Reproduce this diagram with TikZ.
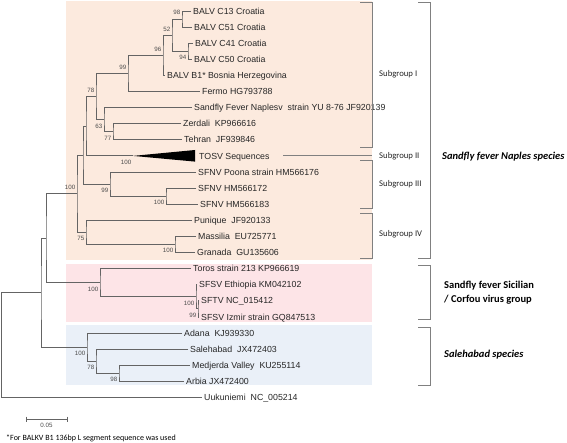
\documentclass[tikz,border=0pt]{standalone}
\usepackage{fontspec}
\newfontfamily\arialfont{Liberation Sans}
\newfontfamily\calibrifont{Carlito}
\usetikzlibrary{calc}
\definecolor{naplesbg}{RGB}{252,234,222}
\definecolor{sicilianbg}{RGB}{253,228,231}
\definecolor{salehabadbg}{RGB}{234,240,248}
\definecolor{treegray}{RGB}{100,100,100}
\definecolor{bracketgray}{RGB}{128,128,128}
\tikzset{
    leaf/.style = {
        anchor = west,
        inner xsep = 2pt,
        inner ysep = 0pt,
        text height = 6.3pt,
        text depth = 0pt,
        text = black!85,
        font = \arialfont\fontsize{8.8}{10}\selectfont,
        },
    boot/.style = {
        inner sep = 0pt,
        text = black!70,
        font = \arialfont\fontsize{6.2}{7}\selectfont,
        },
    bootup/.style = {
        boot,
        anchor = south east,
        xshift = -1.5pt,
        yshift = 3.8pt,
        },
    bootdown/.style = {
        boot,
        anchor = north east,
        xshift = -1.5pt,
        yshift = -3.8pt,
        },
    branch/.style = {
        draw = treegray,
        line width = 0.8pt,
        },
    bracket/.style = {
        draw = bracketgray,
        line width = 1pt,
        },
    subgroup/.style = {
        anchor = west,
        inner sep = 0pt,
        text = black!85,
        font = \calibrifont\fontsize{8.7}{10}\selectfont,
        },
    species/.style = {
        anchor = west,
        inner sep = 0pt,
        align = left,
        text = black,
        font = \calibrifont\bfseries\fontsize{10.5}{14}\selectfont,
        },
}

\begin{document}
\begin{tikzpicture}[x=1pt, y=-1pt]
            \useasboundingbox (0,0) rectangle (567,443);

            % shaded groups
            \fill[naplesbg] (66,1) rectangle (372,260);
            \fill[sicilianbg] (66,264) rectangle (372,322);
            \fill[salehabadbg] (66,325) rectangle (372,385);

            % leaves
            \node[leaf] (c13) at (191,11) {BALV C13 Croatia};
            \node[leaf] (c51) at (192,27.1) {BALV C51 Croatia};
            \node[leaf] (c41) at (193,43.2) {BALV C41 Croatia};
            \node[leaf] (c50) at (192,59.3) {BALV C50 Croatia};
            \node[leaf] (b1) at (165,75.4) {BALV B1* Bosnia Herzegovina};
            \node[leaf] (fermo) at (200,91.5) {Fermo HG793788};
            \node[leaf] (naplesv) at (192,107.6) {Sandfly Fever Naplesv\ \ strain YU 8-76 JF920139};
            \node[leaf] (zerdali) at (181,123.7) {Zerdali\ \ KP966616};
            \node[leaf] (tehran) at (182,139.8) {Tehran\ \ JF939846};
            \node[leaf] (tosv) at (197,155.9) {TOSV Sequences};
            \node[leaf] (poona) at (196,172) {SFNV Poona strain HM566176};
            \node[leaf] (hm172) at (196,188.1) {SFNV HM566172};
            \node[leaf] (hm183) at (198,204.2) {SFNV HM566183};
            \node[leaf] (punique) at (192,220.3) {Punique\ \ JF920133};
            \node[leaf] (massilia) at (196,236.4) {Massilia\ \ EU725771};
            \node[leaf] (granada) at (195,252.5) {Granada\ \ GU135606};
            \node[leaf] (toros) at (191,268.6) {Toros strain 213 KP966619};
            \node[leaf] (ethiopia) at (197,284.7) {SFSV Ethiopia KM042102};
            \node[leaf] (sftv) at (199,300.8) {SFTV NC\_015412};
            \node[leaf] (izmir) at (199,316.9) {SFSV Izmir strain GQ847513};
            \node[leaf] (adana) at (182,333) {Adana\ \ KJ939330};
            \node[leaf] (salehabad) at (188,349.1) {Salehabad\ \ JX472403};
            \node[leaf] (medjerda) at (190,365.2) {Medjerda Valley\ \ KU255114};
            \node[leaf] (arbia) at (184,381.3) {Arbia JX472400};
            \node[leaf] (uukuniemi) at (202,397.4) {Uukuniemi\ \ NC\_005214};

            % inner nodes
            \coordinate (n98) at (182,19.05);
            \coordinate (n94) at (188,51.25);
            \coordinate (n52) at (172,35.15);
            \coordinate (n96) at (163,55.3);
            \coordinate (n99) at (128,73.4);
            \coordinate (n77) at (113,131.75);
            \coordinate (n63) at (104,119.7);
            \coordinate (n78) at (96,96.55);
            \coordinate (ntosv) at (86,126.2);
            \coordinate (tosvtip) at (133,155.9);
            \coordinate (tosvtop) at (195,150);
            \coordinate (tosvbot) at (195,161.6);
            \coordinate (n100h) at (166,196.15);
            \coordinate (n99s) at (110,184.1);
            \coordinate (nsub) at (83,155.15);
            \coordinate (n100m) at (175,244.45);
            \coordinate (n75) at (86,232.4);
            \coordinate (nnaples) at (77,193.8);
            \coordinate (n99i) at (198,308.85);
            \coordinate (n100e) at (196,296.8);
            \coordinate (nsic) at (100,282.7);
            \coordinate (na) at (46,238.25);
            \coordinate (n98a) at (119,373.25);
            \coordinate (n78s) at (96,361.2);
            \coordinate (nsal) at (87,347.1);
            \coordinate (nb) at (41,292.7);
            \coordinate (root) at (1.5,345);

            % branches
            \draw[branch] (c13.west) -| (n98) |- (c51.west);
            \draw[branch] (c41.west) -| (n94) |- (c50.west);
            \draw[branch] (n98) -| (n52) |- (n94);
            \draw[branch] (n52) -| (n96) |- (b1.west);
            \draw[branch] (n96) -| (n99) |- (fermo.west);
            \draw[branch] (zerdali.west) -| (n77) |- (tehran.west);
            \draw[branch] (naplesv.west) -| (n63) |- (n77);
            \draw[branch] (n99) -| (n78) |- (n63);
            \draw[branch] (n78) -| (ntosv) |- (tosvtip);
            \fill[black] (tosvtip) -- (tosvtop) -- (tosvbot) -- cycle;
            \draw[branch] (hm172.west) -| (n100h) |- (hm183.west);
            \draw[branch] (poona.west) -| (n99s) |- (n100h);
            \draw[branch] (ntosv) -| (nsub) |- (n99s);
            \draw[branch] (massilia.west) -| (n100m) |- (granada.west);
            \draw[branch] (punique.west) -| (n75) |- (n100m);
            \draw[branch] (nsub) -| (nnaples) |- (n75);
            \draw[branch] (sftv.west) -| (n99i) |- (izmir.west);
            \draw[branch] (ethiopia.west) -| (n100e) |- (n99i);
            \draw[branch] (toros.west) -| (nsic) |- (n100e);
            \draw[branch] (nnaples) -| (na) |- (nsic);
            \draw[branch] (medjerda.west) -| (n98a) |- (arbia.west);
            \draw[branch] (salehabad.west) -| (n78s) |- (n98a);
            \draw[branch] (adana.west) -| (nsal) |- (n78s);
            \draw[branch] (na) -| (nb) |- (nsal);
            \draw[branch] (nb) -| (root) |- (uukuniemi.west);

            % bootstrap values
            \node[bootup] (bs98) at (n98) {98};
            \node[bootdown] (bs94) at (n94) {94};
            \node[bootup] (bs52) at (n52) {52};
            \node[bootup] (bs96) at (n96) {96};
            \node[bootup] (bs99) at (n99) {99};
            \node[bootup] (bs78) at (n78) {78};
            \node[bootdown] (bs63) at (n63) {63};
            \node[bootdown] (bs77) at (n77) {77};
            \node[bootdown] (bstosv) at (tosvtip) {100};
            \node[bootdown] (bs99s) at (n99s) {99};
            \node[bootdown] (bs100h) at (n100h) {100};
            \node[bootup] (bsnaples) at (nnaples) {100};
            \node[bootdown] (bs75) at (n75) {75};
            \node[bootdown] (bs100m) at (n100m) {100};
            \node[bootdown] (bssic) at (nsic) {100};
            \node[bootdown] (bs100e) at (n100e) {100};
            \node[bootdown] (bs99i) at (n99i) {99};
            \node[bootdown] (bssal) at (nsal) {100};
            \node[bootdown] (bs78s) at (n78s) {78};
            \node[bootdown] (bs98a) at (n98a) {98};

            % subgroups
            \draw[bracket] (360,3) -| (372,148) -- (360,148);
            \draw[bracket] (283,156) -- (372,156);
            \draw[bracket] (360,161) -| (372,209) -- (360,209);
            \draw[bracket] (360,214) -| (372,259) -- (360,259);
            \node[subgroup] (sgI) at (379,74) {Subgroup I};
            \node[subgroup] (sgII) at (379,156) {Subgroup II};
            \node[subgroup] (sgIII) at (379,184) {Subgroup III};
            \node[subgroup] (sgIV) at (379,234) {Subgroup IV};

            % species
            \draw[bracket] (418,3) -| (430,259) -- (418,259);
            \draw[bracket] (418,266) -| (430,319) -- (418,319);
            \draw[bracket] (418,327) -| (430,385) -- (418,385);
            \node[species] (naples) at (442,157) {\itshape Sandfly fever Naples species};
            \node[species] (sicilian) at (444,293) {Sandfly fever Sicilian\\/ Corfou virus group};
            \node[species] (salehabadsp) at (444,355) {\itshape Salehabad species};

            % scale bar
            \coordinate (scaleL) at (26,419);
            \coordinate (scaleR) at (67,419);
            \draw[branch] (scaleL) -- (scaleR);
            \draw[branch] ([yshift=2.5pt]scaleL) -- ([yshift=-2.5pt]scaleL);
            \draw[branch] ([yshift=2.5pt]scaleR) -- ([yshift=-2.5pt]scaleR);
            \node[boot, anchor=north] (scaletext) at ($(scaleL)!0.5!(scaleR)+(0,4)$) {0.05};
            \node[anchor=west, inner sep=0pt, font=\calibrifont\fontsize{8}{9}\selectfont] (footnote) at (6,438) {*For BALKV B1 136bp L segment sequence was used};
        \end{tikzpicture}
\end{document}
